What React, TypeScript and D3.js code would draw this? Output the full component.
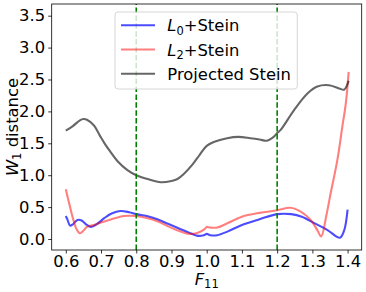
import { useEffect, useRef } from "react";
import * as d3 from "d3";

// L0 + Stein (blue)
const blueX = [0.6, 0.605, 0.612, 0.62, 0.633, 0.645, 0.66, 0.672, 0.69, 0.71, 0.73, 0.755, 0.78, 0.8, 0.83, 0.86, 0.89, 0.92, 0.95, 0.975, 0.992, 1.0, 1.01, 1.03, 1.06, 1.1, 1.15, 1.2, 1.24, 1.27, 1.305, 1.343, 1.378, 1.39, 1.395, 1.4];
const blueY = [0.36, 0.3, 0.21, 0.23, 0.3, 0.29, 0.22, 0.19, 0.24, 0.33, 0.4, 0.44, 0.42, 0.39, 0.36, 0.31, 0.24, 0.17, 0.1, 0.05, 0.06, 0.08, 0.06, 0.06, 0.12, 0.22, 0.31, 0.39, 0.39, 0.35, 0.25, 0.14, 0.02, 0.13, 0.25, 0.46];

// L2 + Stein (red)
const redX = [0.6, 0.61, 0.62, 0.63, 0.64, 0.65, 0.66, 0.68, 0.7, 0.73, 0.765, 0.8, 0.83, 0.86, 0.89, 0.92, 0.95, 0.975, 0.995, 1.0, 1.01, 1.03, 1.06, 1.1, 1.15, 1.2, 1.238, 1.267, 1.295, 1.314, 1.325, 1.34, 1.352, 1.371, 1.385, 1.395, 1.403];
const redY = [0.78, 0.55, 0.33, 0.16, 0.09, 0.13, 0.19, 0.22, 0.26, 0.31, 0.36, 0.36, 0.33, 0.28, 0.2, 0.13, 0.08, 0.1, 0.16, 0.19, 0.18, 0.18, 0.25, 0.35, 0.41, 0.45, 0.49, 0.43, 0.3, 0.14, 0.04, 0.38, 0.72, 1.24, 1.76, 2.13, 2.62];

// Projected Stein (gray)
const grayX = [0.6, 0.62, 0.64, 0.65, 0.66, 0.68, 0.69, 0.7, 0.71, 0.725, 0.747, 0.775, 0.8, 0.832, 0.87, 0.9, 0.917, 0.935, 0.96, 0.98, 1.0, 1.02, 1.058, 1.09, 1.124, 1.15, 1.171, 1.19, 1.2, 1.21, 1.248, 1.286, 1.314, 1.347, 1.376, 1.39, 1.403];
const grayY = [1.7, 1.77, 1.86, 1.88, 1.87, 1.78, 1.69, 1.59, 1.5, 1.38, 1.22, 1.08, 1.0, 0.94, 0.89, 0.91, 0.94, 1.02, 1.17, 1.32, 1.46, 1.52, 1.58, 1.6, 1.58, 1.56, 1.54, 1.6, 1.66, 1.71, 2.02, 2.28, 2.39, 2.41, 2.36, 2.34, 2.48];

const xTicks = [0.6, 0.7, 0.8, 0.9, 1.0, 1.1, 1.2, 1.3, 1.4];
const yTicks = [0.0, 0.5, 1.0, 1.5, 2.0, 2.5, 3.0, 3.5];
const vLines = [0.8, 1.2];

const series = [
  { name: "L", sub: "0", rest: "+Stein", xs: blueX, ys: blueY, color: "#0000ff", alpha: 0.7 },
  { name: "L", sub: "2", rest: "+Stein", xs: redX, ys: redY, color: "#ff0000", alpha: 0.5 },
  { name: "", sub: "", rest: "Projected Stein", xs: grayX, ys: grayY, color: "#000000", alpha: 0.6 },
];

export default function App() {
  const ref = useRef<SVGSVGElement>(null);

  useEffect(() => {
    if (!ref.current) return;
    const width = 366;
    const height = 292;
    const left = 51.7, right = 361.7, top = 4, bottom = 250;
    const font = "DejaVu Sans, sans-serif";
    const fs = 16.4;

    const svg = d3.select(ref.current);
    svg.selectAll("*").remove();
    svg.attr("width", width).attr("height", height);

    const x = d3.scaleLinear().domain([0.56, 1.44]).range([left, right]);
    const y = d3.scaleLinear().domain([-0.172, 3.683]).range([bottom, top]);

    svg.append("defs").append("clipPath").attr("id", "plot-clip")
      .append("rect")
      .attr("x", left).attr("y", top)
      .attr("width", right - left).attr("height", bottom - top);

    const plot = svg.append("g").attr("clip-path", "url(#plot-clip)");
    const line = d3.line().curve(d3.curveCatmullRom.alpha(0.5));

    series.forEach((s) => {
      const pts = s.xs.map((v, i) => [x(v), y(s.ys[i])] as [number, number]);
      plot.append("path")
        .attr("d", line(pts))
        .attr("fill", "none")
        .attr("stroke", s.color)
        .attr("stroke-opacity", s.alpha)
        .attr("stroke-width", 2.1)
        .attr("stroke-linejoin", "round");
    });

    plot.selectAll("line.vline")
      .data(vLines)
      .enter()
      .append("line")
      .attr("class", "vline")
      .attr("x1", (d) => x(d)).attr("x2", (d) => x(d))
      .attr("y1", bottom).attr("y2", top)
      .attr("stroke", "#008000")
      .attr("stroke-width", 1.6)
      .attr("stroke-dasharray", "5.5,2.4");

    // axes
    const xAxis = svg.append("g")
      .attr("transform", `translate(0,${bottom})`)
      .call(d3.axisBottom(x).tickValues(xTicks).tickFormat(d3.format(".1f")).tickSize(3.5).tickPadding(1.5));
    const yAxis = svg.append("g")
      .attr("transform", `translate(${left},0)`)
      .call(d3.axisLeft(y).tickValues(yTicks).tickFormat(d3.format(".1f")).tickSize(3.5).tickPadding(3));
    [xAxis, yAxis].forEach((a) => {
      a.select(".domain").remove();
      a.selectAll("line").attr("stroke", "#000").attr("stroke-width", 0.8);
      a.selectAll("text")
        .attr("fill", "#000")
        .style("font-family", font)
        .style("font-size", `${fs}px`);
    });

    svg.append("rect")
      .attr("x", left).attr("y", top)
      .attr("width", right - left).attr("height", bottom - top)
      .attr("fill", "none")
      .attr("stroke", "#000")
      .attr("stroke-width", 0.8);

    // x label
    const xl = svg.append("text")
      .attr("x", (left + right) / 2)
      .attr("y", 284.5)
      .attr("text-anchor", "middle")
      .style("font-family", font)
      .style("font-size", `${fs}px`);
    xl.append("tspan").attr("font-style", "italic").text("F");
    xl.append("tspan").attr("dy", 3.5).style("font-size", `${fs * 0.7}px`).text("11");

    // y label
    const yl = svg.append("text")
      .attr("transform", `translate(17.5,${(top + bottom) / 2}) rotate(-90)`)
      .attr("text-anchor", "middle")
      .style("font-family", font)
      .style("font-size", `${fs}px`);
    yl.append("tspan").attr("font-style", "italic").text("W");
    yl.append("tspan").attr("dy", 3.5).style("font-size", `${fs * 0.7}px`).text("1");
    yl.append("tspan").attr("dy", -3.5).text(" distance");

    // legend
    const lg = svg.append("g");
    lg.append("rect")
      .attr("x", 115).attr("y", 12)
      .attr("width", 182.3).attr("height", 77)
      .attr("rx", 3)
      .attr("fill", "#fff").attr("fill-opacity", 0.8)
      .attr("stroke", "#cccccc").attr("stroke-width", 0.8);
    series.forEach((s, i) => {
      const cy = 25.3 + i * 24.2;
      lg.append("line")
        .attr("x1", 121).attr("x2", 155)
        .attr("y1", cy).attr("y2", cy)
        .attr("stroke", s.color)
        .attr("stroke-opacity", s.alpha)
        .attr("stroke-width", 2.1);
      const t = lg.append("text")
        .attr("x", 167.3)
        .attr("y", cy + 6)
        .style("font-family", font)
        .style("font-size", `${fs}px`);
      if (s.name) {
        t.append("tspan").attr("font-style", "italic").text(s.name);
        t.append("tspan").attr("dy", 3.5).style("font-size", `${fs * 0.7}px`).text(s.sub);
        t.append("tspan").attr("dy", -3.5).text(s.rest);
      } else {
        t.append("tspan").text(s.rest);
      }
    });
  }, []);

  return (
    <svg
      ref={ref}
      style={{ position: "absolute", left: 0, top: 0, background: "#fff" }}
    />
  );
}
